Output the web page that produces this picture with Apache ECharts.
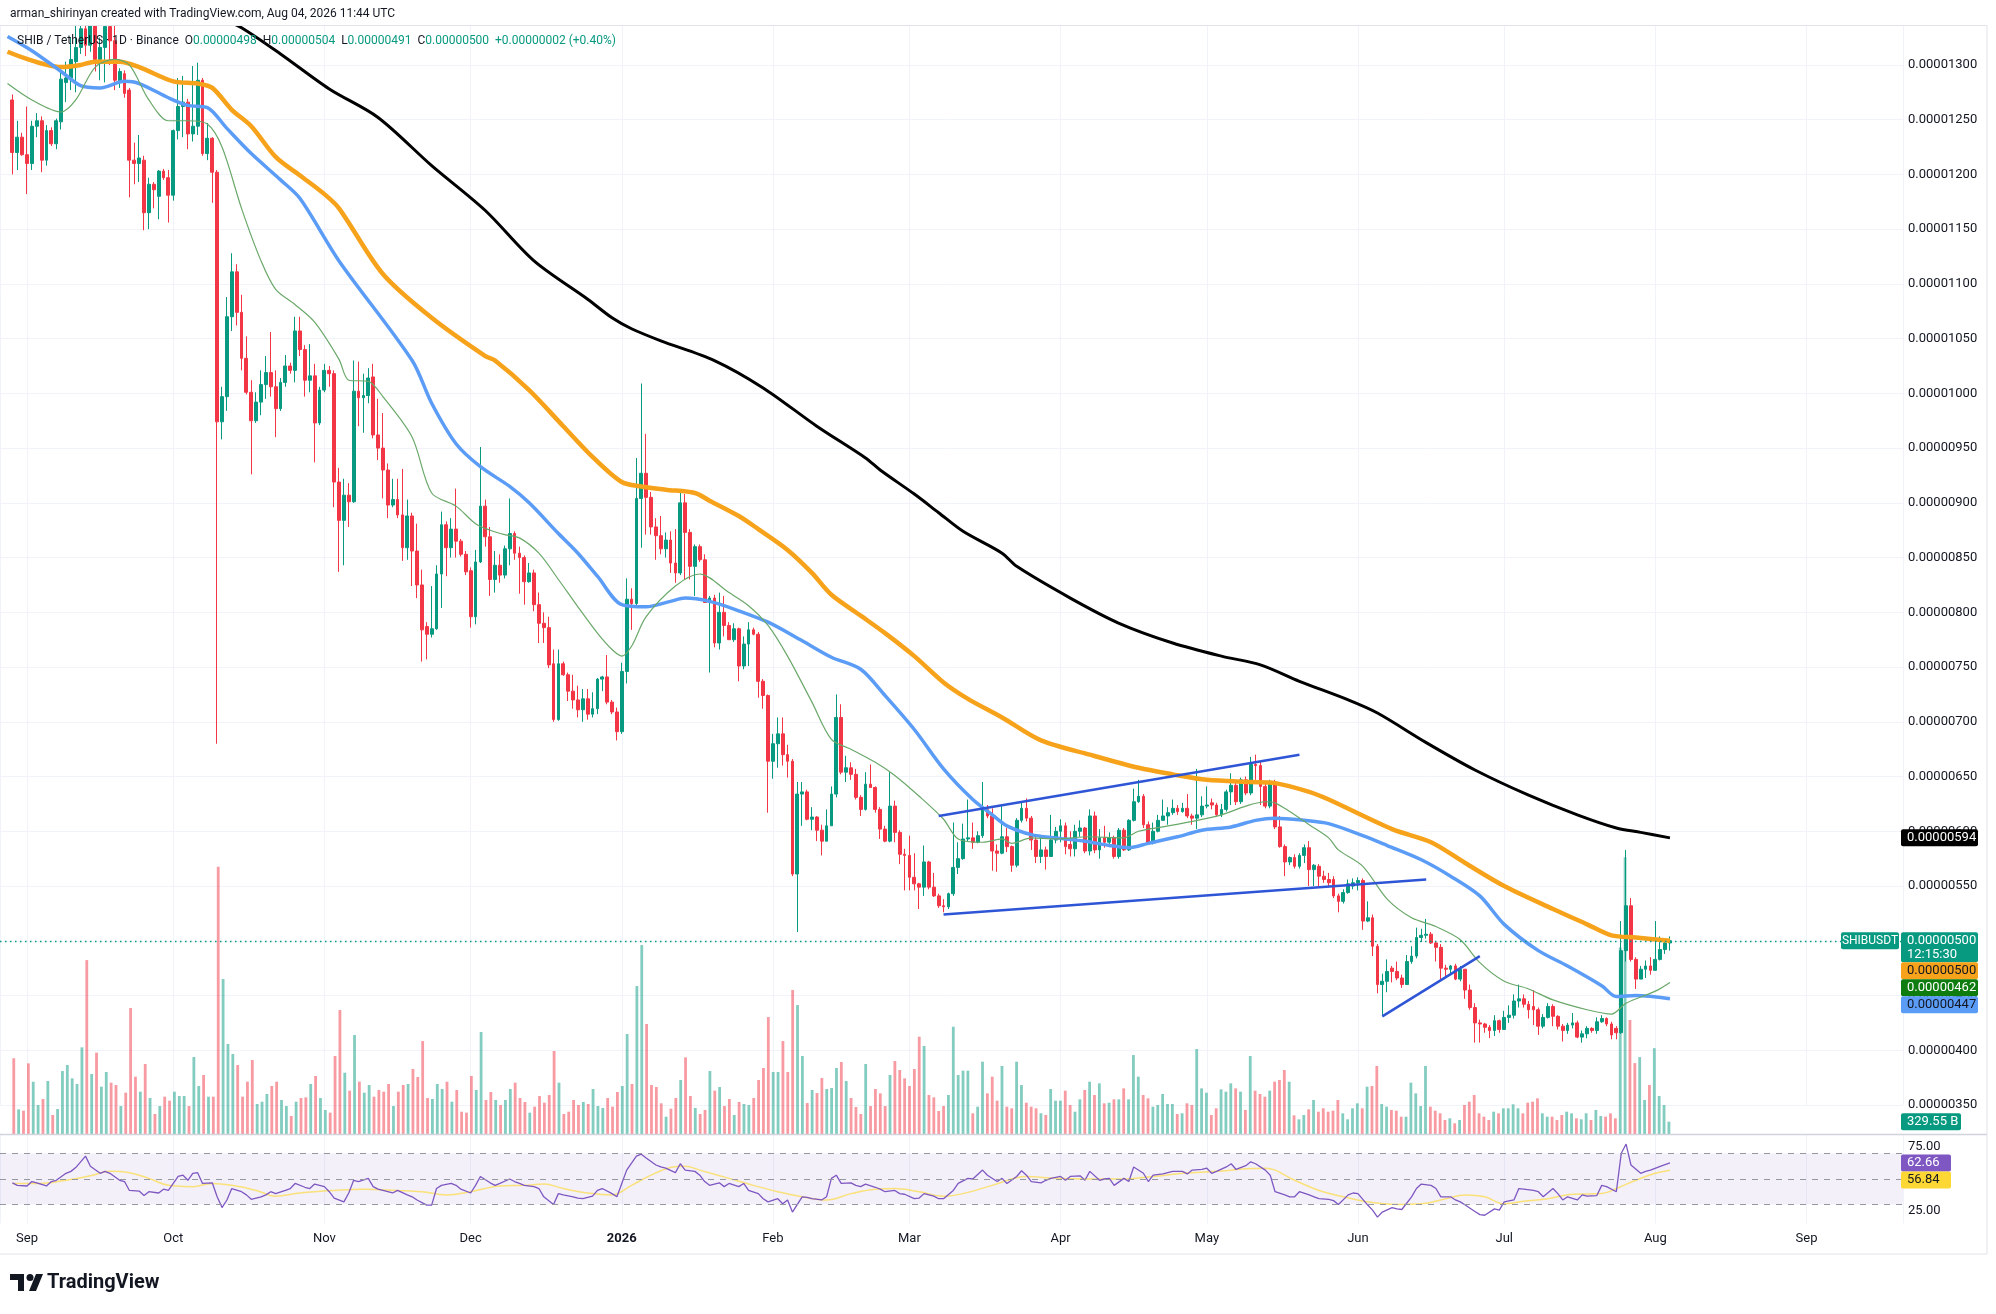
<!DOCTYPE html>
<html>
<head>
<meta charset="utf-8">
<title>SHIB / TetherUS 1D</title>
<script src="https://cdn.jsdelivr.net/npm/echarts@6.0.0/dist/echarts.min.js"></script>
<style>
html, body { margin: 0; padding: 0; background: #fff; }
#chart { width: 1996px; height: 1314px; }
</style>
</head>
<body>
<div id="chart"></div>
<script>
// prices in units of 1e-8 USDT, days counted from 2025-09-01
var FIRST_DAY = -3;

// [open, close, low, high], one per day from 2025-08-29
var ohlc = [
[1268,1220,1200,1273],[1220,1234,1204,1249],[1234,1218,1217,1238],[1218,1210,1182,1262],[1210,1244,1204,1249],[1244,1249,1234,1256],[1249,1213,1202,1253],[1213,1240,1208,1245],[1240,1228,1226,1243],[1228,1249,1223,1251],
[1248,1287,1241,1299],[1284,1288,1266,1303],[1288,1305,1277,1325],[1303,1316,1275,1342],[1316,1333,1310,1348],[1333,1318,1308,1345],[1318,1338,1312,1352],[1342,1305,1294,1350],[1305,1316,1286,1325],[1316,1335,1284,1348],
[1335,1322,1300,1350],[1322,1286,1277,1345],[1284,1294,1279,1297],[1292,1274,1270,1295],[1277,1213,1179,1279],[1213,1210,1191,1229],[1210,1215,1193,1236],[1213,1165,1149,1217],[1165,1191,1150,1197],[1191,1186,1169,1193],
[1180,1203,1159,1204],[1203,1197,1195,1205],[1197,1181,1156,1204],[1181,1240,1176,1241],[1240,1262,1232,1288],[1262,1266,1234,1290],[1266,1237,1223,1269],[1237,1244,1230,1299],[1244,1286,1236,1302],[1286,1219,1217,1288],
[1219,1233,1213,1247],[1233,1202,1174,1234],[1202,974,680,1204],[974,997,958,1006],[997,1070,984,1088],[1070,1111,1057,1128],[1111,1074,1062,1118],[1074,1032,1021,1090],[1032,1001,999,1052],[1001,975,926,1012],
[975,992,973,1001],[992,1008,980,1021],[1008,1019,995,1034],[1019,1006,997,1056],[1006,986,960,1021],[986,1010,984,1014],[1010,1025,1006,1035],[1025,1021,1018,1028],[1021,1057,1010,1070],[1057,1040,1034,1070],
[1040,1012,997,1044],[1012,1016,1001,1045],[1016,973,937,1027],[973,1003,971,1006],[1003,1021,1001,1027],[1021,1018,1006,1025],[1018,919,896,1021],[919,884,837,932],[884,907,843,922],[907,901,878,918],
[901,1002,900,1030],[1002,996,970,1029],[996,998,964,1018],[998,1014,991,1023],[1015,962,959,1027],[962,950,939,995],[950,930,904,982],[930,898,886,936],[898,903,896,922],[903,889,886,922],
[889,859,847,931],[859,888,848,903],[888,856,824,891],[856,825,813,881],[825,784,755,839],[787,780,757,791],[780,785,777,824],[785,835,784,843],[835,880,804,892],[880,859,833,883],
[859,876,850,886],[876,865,850,913],[865,853,851,867],[853,837,834,856],[838,796,786,841],[796,846,789,857],[846,897,845,951],[897,869,860,903],[869,830,815,878],[830,843,818,856],
[843,834,827,853],[834,858,831,861],[858,872,843,904],[872,854,848,874],[854,850,817,860],[850,828,807,852],[828,836,827,845],[836,807,801,839],[807,790,772,818],[790,786,772,800],
[786,752,749,796],[753,702,700,766],[702,753,701,766],[753,743,742,755],[743,728,719,745],[728,720,712,743],[720,711,704,733],[711,721,700,730],[721,707,702,730],[707,712,704,727],
[712,739,707,740],[739,741,728,742],[741,718,716,761],[718,709,707,720],[709,691,683,713],[691,746,689,754],[746,812,735,831],[812,808,784,822],[808,904,806,941],[904,927,859,1009],
[927,905,871,963],[905,878,871,910],[878,870,848,886],[870,858,853,888],[858,866,850,873],[866,845,836,874],[845,836,827,876],[836,900,834,912],[900,873,830,908],[873,842,830,876],
[842,860,815,862],[860,848,846,862],[848,809,809,853],[809,813,745,815],[813,772,768,816],[772,800,766,818],[800,788,778,815],[788,775,775,791],[775,785,773,790],[785,751,737,786],
[751,771,748,778],[771,784,751,791],[784,780,779,786],[780,737,722,782],[737,724,712,739],[724,664,617,725],[664,680,648,689],[680,689,658,704],[689,670,660,704],[670,664,649,679],
[664,561,559,666],[561,634,508,645],[634,636,605,645],[636,611,610,638],[611,613,601,622],[613,601,591,614],[601,591,578,606],[591,605,591,620],[605,634,605,641],[634,704,631,725],
[704,654,652,716],[654,658,645,669],[658,652,647,663],[652,631,629,657],[631,620,614,633],[620,643,619,654],[643,640,640,661],[640,620,617,641],[620,602,593,622],[602,591,590,605],
[591,623,590,654],[623,599,590,628],[599,579,570,601],[579,578,546,584],[578,558,546,596],[558,552,546,580],[552,549,529,553],[549,572,541,587],[572,549,547,573],[549,541,540,562],
[541,532,530,543],[532,531,526,538],[531,543,529,544],[543,567,541,608],[567,575,561,590],[575,593,574,607],[593,594,591,629],[594,590,584,608],[590,596,589,600],[596,620,594,645],
[620,614,612,624],[614,582,564,621],[582,580,563,588],[580,595,579,623],[595,586,581,603],[586,569,563,587],[569,610,567,612],[610,621,608,627],[621,612,609,630],[612,592,583,614],
[592,577,571,595],[577,583,571,595],[583,577,565,586],[577,592,577,615],[592,600,589,604],[600,605,590,611],[605,586,579,608],[588,584,577,600],[584,600,577,606],[600,603,595,610],
[603,582,580,604],[582,614,578,620],[614,583,580,618],[583,594,575,602],[594,590,585,605],[590,594,587,599],[594,577,575,596],[577,601,575,603],[601,583,582,603],[583,610,582,611],
[610,627,609,639],[627,632,626,647],[632,606,603,634],[606,589,588,609],[589,600,588,608],[600,610,599,615],[610,614,610,629],[614,617,606,622],[617,621,615,629],[621,618,615,624],
[618,621,617,626],[621,614,612,634],[614,612,606,616],[612,615,602,657],[615,623,613,632],[623,624,621,641],[626,624,620,630],[624,615,614,626],[615,620,613,625],[620,636,618,638],
[636,642,624,653],[642,627,624,644],[627,647,625,649],[647,635,633,650],[635,661,633,668],[661,660,647,670],[660,641,624,664],[641,623,621,644],[623,645,621,647],[645,604,602,647],
[604,586,585,614],[586,572,559,588],[572,576,569,577],[576,568,566,579],[568,578,566,580],[578,585,571,588],[585,565,550,591],[565,569,550,570],[568,559,550,570],[559,556,553,564],
[556,553,549,562],[556,541,539,559],[541,536,526,543],[536,544,534,547],[544,552,543,556],[550,553,547,557],[553,555,546,558],[555,518,510,557],[518,521,517,536],[521,495,486,524],
[495,460,452,497],[460,463,431,470],[463,472,453,483],[475,472,462,477],[472,466,464,481],[466,460,457,469],[460,481,460,487],[481,486,479,495],[486,503,484,512],[503,505,499,511],
[505,506,502,520],[506,498,497,508],[498,494,481,500],[494,475,465,497],[475,474,466,478],[474,477,469,478],[477,465,464,479],[465,474,463,477],[474,455,447,474],[455,439,437,460],
[439,425,407,443],[425,424,407,428],[424,421,416,425],[421,418,411,423],[418,427,413,432],[427,419,416,428],[419,430,419,436],[430,432,425,441],[432,445,429,451],[445,447,439,460],
[447,442,439,451],[442,437,429,445],[440,437,423,455],[437,422,414,439],[422,430,420,433],[430,440,429,443],[440,431,422,442],[431,422,419,432],[422,418,408,424],[418,423,415,425],
[423,425,420,434],[425,412,411,427],[412,415,407,418],[415,420,411,422],[420,418,416,421],[418,426,415,430],[426,429,425,432],[429,424,422,430],[424,414,410,426],[420,416,410,422],
[416,491,415,518],[491,532,481,583],[532,483,481,539],[483,465,456,485],[465,474,465,477],[474,477,466,482],[477,473,469,485],[473,483,473,518],[483,492,482,504],[492,498,488,502],[498,500,491,504]
];

// daily volume, billions of SHIB, same days as ohlc
var volumes = [
2030,660,625,1893,1402,777,938,1420,509,670,1688,1849,1491,1340,2322,4661,1607,2179,1268,1661,
1375,1313,750,1107,3376,1536,1134,1875,964,536,750,1000,893,1134,1018,1018,750,2063,1286,1581,
1000,1000,7162,4152,2411,2143,1849,1000,1402,1982,804,866,1072,1286,1402,911,750,482,866,964,
982,1340,1554,964,643,572,2090,3322,1643,1161,2652,1402,1107,1313,1000,1179,1134,1340,750,1134,
1313,1340,1741,1527,2491,964,938,1340,1206,1402,866,1179,598,572,1554,1179,2733,911,1125,911,
777,911,1206,1375,964,857,572,732,1018,839,1045,2224,1375,536,598,911,777,857,804,1206,
750,697,964,732,1125,1286,2679,1340,3965,5063,2947,1313,1259,822,464,679,964,1447,2054,1018,
697,536,643,1688,1161,1259,750,938,509,857,804,777,964,1447,1768,3134,1661,1661,2491,1661,
3858,3456,2090,830,1179,1098,1500,1206,1232,1768,1929,1420,964,723,
536,1875,750,1206,1089,750,1581,1956,1715,1491,1286,1741,2608,2358,1045,982,616,750,1045,2875,
1581,1697,1697,554,732,1938,1089,1536,893,1822,732,688,1938,1313,839,732,688,554,509,1206,
893,893,1161,777,598,929,1179,1402,1045,1357,822,839,929,929,1223,929,2116,1536,1045,955,
732,777,1072,804,804,536,554,822,777,2277,1223,1107,509,688,1197,1134,1357,1223,1134,643,
2090,1161,1072,1000,1161,1402,1447,1715,1402,500,393,509,661,911,598,688,598,625,911,554,
393,688,822,688,1268,1286,1822,804,732,643,625,464,464,1375,1089,750,1822,732,625,554,
375,420,286,375,777,866,1045,554,464,375,598,554,688,688,795,688,554,839,866,955,
554,464,464,375,509,598,554,420,393,554,375,643,482,464,554,420,5000,7420,3055,1900,
2060,910,1313,2300,1018,777,329.55
];

// moving averages: [day, price]
var ma20 = [[-4,1283],[1,1268],[7,1257],[10,1268],[14,1298],[18,1305],[21,1300],[25,1268],[29,1249],[33,1249],[37,1246],[40,1225],[44,1169],[48,1121],[51,1095],[55,1081],[59,1065],[64,1031],[66,1012],[70,1011],[73,997],[79,960],[83,909],[88,897],[92,881],[95,875],[98,871],[101,868],[105,854],[109,830],[113,805],[117,781],[120,766],[122,760],[124,769],[127,796],[133,824],[138,835],[144,818],[148,806],[152,788],[156,760],[161,718],[165,684],[169,675],[174,663],[178,651],[183,632],[188,611],[191,593],[196,590],[200,593],[202,589],[206,594],[211,593],[218,595],[225,594],[228,600],[233,604],[239,609],[245,615],[250,623],[254,627],[256,626],[259,618],[263,606],[267,594],[269,583],[274,568],[279,538],[284,521],[289,513],[294,501],[298,480],[303,463],[308,456],[313,446],[320,437],[325,433],[328,443],[334,454],[337,462]];
var ma50 = [[-4,1326],[1,1313],[7,1294],[11,1281],[15,1279],[20,1285],[23,1283],[29,1270],[33,1263],[37,1261],[41,1242],[46,1219],[52,1195],[56,1178],[64,1121],[79,1030],[83,991],[88,954],[93,933],[99,915],[103,900],[109,872],[113,854],[117,833],[122,807],[127,805],[132,810],[135,813],[140,810],[145,803],[152,791],[159,774],[165,759],[171,748],[176,724],[182,693],[188,657],[194,629],[198,615],[201,605],[206,597],[211,594],[217,591],[222,587],[226,585],[230,589],[236,595],[241,601],[247,604],[252,610],[256,612],[262,610],[267,607],[274,596],[279,587],[286,574],[292,559],[298,541],[303,515],[310,491],[316,477],[323,459],[326,449],[330,450],[337,447]];
var ma100 = [[-4,1312],[7,1298],[11,1300],[14,1303],[19,1303],[23,1298],[30,1285],[35,1283],[38,1279],[42,1259],[46,1244],[51,1216],[56,1199],[61,1182],[64,1169],[73,1109],[83,1069],[94,1034],[96,1030],[103,1003],[110,970],[116,942],[122,919],[126,915],[131,912],[137,909],[140,902],[146,888],[150,876],[156,857],[161,836],[165,816],[171,797],[176,781],[182,760],[188,736],[193,721],[200,704],[208,683],[218,670],[228,658],[235,652],[242,647],[251,645],[256,644],[263,636],[267,629],[280,602],[288,590],[295,571],[303,550],[313,529],[320,515],[325,505],[330,503],[337,500]];
var ma200 = [[40,1342],[44,1334],[52,1310],[62,1278],[72,1252],[83,1208],[94,1167],[104,1121],[115,1086],[120,1069],[124,1059],[130,1048],[141,1030],[151,1005],[162,970],[172,941],[175,930],[182,908],[187,891],[192,874],[200,854],[203,842],[214,813],[224,790],[235,772],[245,760],[253,752],[261,737],[271,720],[277,708],[287,681],[297,656],[308,633],[318,615],[326,603],[331,599],[337,594]];

// drawn trend lines: [day, price]
var channelTop = [[187,614],[261,670]];
var channelBottom = [[188,524],[287,556]];
var wedgeLine = [[278,431],[298,486]];

// RSI 14 and its moving average: [day, value]
var rsi = [[-3,47],[-2,45],[0,44.5],[1,48],[2,47],[4,44.5],[5,48],[6,49],[8,54.5],[9,56],[10,59],[12,68],[13,60],[15,54.5],[16,56],[17,54.5],[19,49],[20,48],[21,41],[23,40.5],[24,37],[25,40],[27,39],[28,42],[29,41],[31,52],[32,53],[33,49],[34,54.5],[35,55],[36,46.5],[38,47],[39,36],[40,27.5],[41,33.5],[42,42.5],[44,40],[45,37.5],[46,34],[48,36],[49,37.5],[50,40],[51,38.5],[53,41],[54,42.5],[55,46.5],[57,43.5],[58,42.5],[59,46],[61,44],[62,40],[63,35],[65,32],[66,39],[67,49],[68,48],[70,50.5],[71,44],[72,42],[74,40],[75,39],[76,41],[78,37.5],[79,36],[80,33.5],[82,29.5],[83,29.5],[84,42.5],[85,45],[87,46.5],[88,45],[89,42],[91,39],[92,45],[93,52],[95,47],[96,45],[97,46.5],[99,50],[100,48],[101,46.5],[102,45],[104,44],[105,42.5],[106,36],[108,30],[109,38.5],[110,37.5],[112,36],[113,35],[114,34.5],[116,36.5],[117,41],[118,42.5],[120,38.5],[121,36],[122,46.5],[123,57],[125,68],[126,69.5],[127,66.5],[129,61],[130,59.5],[131,58.5],[133,55],[134,62],[135,57],[137,56],[138,53],[139,48],[140,45],[142,47],[143,44],[144,46.5],[146,44],[147,46.5],[148,41],[150,38.5],[151,34.5],[152,32],[154,34.5],[155,30.5],[156,33.5],[157,24],[159,36],[160,35.5],[161,34.5],[163,33.5],[164,36],[165,50.5],[166,53],[167,46.5],[169,47],[170,45],[171,44],[172,46],[174,43.5],[175,42],[176,40],[178,41],[179,38.5],[180,38],[182,34.5],[183,35],[184,38.5],[186,36.5],[187,34.5],[188,34.5],[190,41],[191,46.5],[193,50.5],[194,50],[196,57],[197,53],[199,48],[200,50.5],[201,46.5],[203,52],[204,56.5],[205,53],[206,48],[208,47],[209,49],[210,50.5],[212,52],[213,49],[214,52],[216,52.5],[217,49],[218,56],[220,49],[221,50],[222,50.5],[223,45],[225,50.5],[226,48],[227,59.5],[229,54.5],[230,48],[231,53],[233,54],[234,55],[235,56],[237,56],[238,54],[239,57],[241,57.5],[242,58.5],[243,54.5],[244,56],[246,59.5],[247,62],[248,57.5],[250,60.5],[251,63.5],[252,62],[254,57],[255,53],[256,40],[258,37.5],[259,36],[260,36],[261,40],[263,37.5],[264,36],[265,34.5],[267,34],[268,33],[269,30],[271,37.5],[272,39],[273,38.5],[275,29.5],[276,25.5],[277,20],[278,24],[280,27.5],[281,26.5],[282,26],[284,36],[285,42.5],[286,46],[288,45],[289,42.5],[290,36],[292,36],[293,33.5],[294,32],[295,29.5],[297,24.5],[298,22],[299,21.5],[301,26.5],[302,25.5],[303,32],[305,33.5],[306,42.5],[307,42],[309,41],[310,40],[311,36],[313,42.5],[314,38.5],[315,33.5],[316,36],[318,33.5],[319,37.5],[320,36.5],[322,37],[323,45],[324,44],[326,40],[327,70],[328,77.5],[329,61],[331,54.5],[332,56],[333,57],[335,60],[337,62.66]];
var rsiMa = [[-3,46.5],[2,46.5],[8,49],[13,52.5],[17,56],[21,55],[25,50.5],[29,45],[34,44],[38,46.5],[42,45],[47,41],[51,36.5],[56,39],[63,41],[69,42],[76,41],[81,40],[86,37.5],[91,40],[97,44.5],[102,45],[106,46],[110,42.5],[115,39],[120,37.5],[124,45],[128,53],[132,59],[135,60],[138,57],[144,50.5],[149,45],[154,40],[159,36],[164,33.5],[169,38.5],[174,42],[178,42.5],[183,40],[188,36.5],[192,38.5],[198,45],[205,52],[211,50.5],[218,50],[224,50],[231,52],[237,54.5],[244,56],[250,58],[254,58.5],[260,49],[265,41],[270,36],[275,32],[281,30],[286,30.5],[291,34.5],[295,37.5],[299,36],[303,30.5],[307,32.5],[312,34.5],[317,38],[323,38.5],[326,42.5],[330,49],[334,54.5],[337,56.84]];

var monthNames = ['Jan','Feb','Mar','Apr','May','Jun','Jul','Aug','Sep','Oct','Nov','Dec'];

var DAY = 86400000;
var T0 = Date.UTC(2025, 8, 1);
function t(d) { return T0 + d * DAY; }
function px(v) { return (v / 1e8).toFixed(8); }

var UP = '#089981', DOWN = '#f23645';
var FONT = 'Roboto, "Noto Sans", sans-serif';
var X_MIN = t(-5.54), X_MAX = t(384.8);

var candleData = ohlc.map(function (c, i) {
	return [t(FIRST_DAY + i), c[0], c[1], c[2], c[3]];
});
var volData = volumes.map(function (v, i) {
	var up = ohlc[i][1] >= ohlc[i][0];
	return { value: [t(FIRST_DAY + i), v], itemStyle: { color: up ? 'rgba(8,153,129,0.5)' : 'rgba(242,54,69,0.5)' } };
});
function pts(arr) { return arr.map(function (p) { return [t(p[0]), p[1]]; }); }

function timeAxis(gridIndex, labels) {
	return {
		type: 'time',
		gridIndex: gridIndex,
		min: X_MIN,
		max: X_MAX,
		splitNumber: 13,
		minInterval: 28 * DAY,
		maxInterval: 31 * DAY,
		axisLine: { show: false },
		axisTick: { show: false },
		splitLine: { show: gridIndex !== 1, lineStyle: { color: '#f0f3fa', width: 1 } },
		axisLabel: labels ? {
			show: true,
			color: '#131722',
			fontSize: 13,
			fontFamily: FONT,
			margin: 9,
			showMinLabel: false,
			showMaxLabel: false,
			formatter: function (val) {
				var dt = new Date(val);
				if (dt.getUTCDate() !== 1) return '';
				if (dt.getUTCMonth() === 0) return '{y|' + dt.getUTCFullYear() + '}';
				return monthNames[dt.getUTCMonth()];
			},
			rich: { y: { fontWeight: 'bold', fontSize: 13, color: '#131722', fontFamily: FONT } }
		} : { show: false }
	};
}

function maLine(name, data, color, width) {
	return {
		name: name, type: 'line', xAxisIndex: 0, yAxisIndex: 0,
		data: pts(data), smooth: 0.3, showSymbol: false, symbol: 'none',
		lineStyle: { color: color, width: width }, z: 4, silent: true
	};
}
function trendLine(data) {
	return {
		type: 'line', xAxisIndex: 0, yAxisIndex: 0, data: pts(data),
		showSymbol: false, symbol: 'none', lineStyle: { color: '#2e55d6', width: 2.5 }, z: 5, silent: true
	};
}

var last = ohlc[ohlc.length - 1];
var prev = ohlc[ohlc.length - 2];
var chg = last[1] - prev[1];

var dom = document.getElementById('chart');
var myChart = echarts.init(dom);
var option = {
	animation: false,
	useUTC: true,
	backgroundColor: '#ffffff',
	grid: [
		{ left: 0, right: 93, top: 25.5, height: 1079.5 },
		{ left: 0, right: 93, top: 734, height: 400 },
		{ left: 0, right: 93, top: 1134.5, height: 89 }
	],
	xAxis: [timeAxis(0, false), timeAxis(1, false), timeAxis(2, true)],
	yAxis: [
		{
			type: 'value', gridIndex: 0, position: 'right', min: 350, max: 1336, interval: 50,
			axisLine: { show: false }, axisTick: { show: false },
			splitLine: { lineStyle: { color: '#f0f3fa', width: 1 } },
			axisLabel: { margin: 5, color: '#131722', fontSize: 13, fontFamily: FONT, showMaxLabel: false, formatter: px }
		},
		{ type: 'value', gridIndex: 1, min: 0, max: 10720, show: false },
		{
			type: 'value', gridIndex: 2, position: 'right', min: 15, max: 85, interval: 5,
			axisLine: { show: false }, axisTick: { show: false }, splitLine: { show: false },
			axisLabel: {
				margin: 5, color: '#131722', fontSize: 13, fontFamily: FONT,
				formatter: function (v) { return (v === 75 || v === 25) ? v.toFixed(2) : ''; }
			}
		}
	],
	series: [
		{
			name: 'Volume', type: 'bar', xAxisIndex: 1, yAxisIndex: 1, data: volData,
			barWidth: 2.8, z: 1, silent: true
		},
		{
			name: 'SHIBUSDT', type: 'candlestick', xAxisIndex: 0, yAxisIndex: 0,
			data: candleData, encode: { x: 0, y: [1, 2, 3, 4] }, barWidth: 3.3, z: 3, clip: true,
			itemStyle: { color: UP, color0: DOWN, borderColor: UP, borderColor0: DOWN, borderWidth: 1 },
			markLine: {
				symbol: ['none', 'none'], silent: true, label: { show: false },
				lineStyle: { color: UP, type: [1.5, 3.5], width: 1.3, opacity: 1 },
				data: [{ yAxis: last[1] }]
			}
		},
		maLine('MA 200', ma200, '#000000', 3),
		maLine('MA 100', ma100, '#f7a21b', 4.5),
		maLine('MA 50', ma50, '#5b9cf6', 3.5),
		maLine('MA 20', ma20, '#6aa86a', 1.2),
		trendLine(channelTop),
		trendLine(channelBottom),
		trendLine(wedgeLine),
		{
			name: 'RSI', type: 'line', xAxisIndex: 2, yAxisIndex: 2, data: pts(rsi),
			showSymbol: false, symbol: 'none', lineStyle: { color: '#7e57c2', width: 1.3 }, z: 4, silent: true,
			markArea: {
				silent: true, itemStyle: { color: 'rgba(126,87,194,0.09)' },
				data: [[{ yAxis: 30 }, { yAxis: 70 }]]
			},
			markLine: {
				symbol: ['none', 'none'], silent: true, label: { show: false },
				lineStyle: { color: '#9598a1', type: [6, 6], width: 1 },
				data: [{ yAxis: 70 }, { yAxis: 50 }, { yAxis: 30 }]
			}
		},
		{
			name: 'RSI MA', type: 'line', xAxisIndex: 2, yAxisIndex: 2, data: pts(rsiMa),
			smooth: 0.4, showSymbol: false, symbol: 'none',
			lineStyle: { color: '#fdd835', width: 1.5, opacity: 0.65 }, z: 3, silent: true
		}
	],
	graphic: [
		// cover anything poking above the price pane
		{ type: 'rect', shape: { x: 0, y: 0, width: 1996, height: 25 }, style: { fill: '#ffffff' }, z: 40 },
		{ type: 'line', shape: { x1: 0, y1: 25.5, x2: 1987, y2: 25.5 }, style: { stroke: '#e0e3eb', lineWidth: 1 }, z: 50 },
		{ type: 'line', shape: { x1: 0, y1: 1134.5, x2: 1987, y2: 1134.5 }, style: { stroke: '#d1d4dc', lineWidth: 1.5 }, z: 50 },
		{ type: 'line', shape: { x1: 0, y1: 1254, x2: 1987, y2: 1254 }, style: { stroke: '#e0e3eb', lineWidth: 1 }, z: 50 },
		{ type: 'line', shape: { x1: 1987, y1: 25.5, x2: 1987, y2: 1254 }, style: { stroke: '#e0e3eb', lineWidth: 1 }, z: 50 },
		{
			type: 'text', x: 10, y: 14, z: 60,
			style: { text: 'arman_shirinyan created with TradingView.com, Aug 04, 2026 11:44 UTC', fill: '#131722', font: '12px ' + FONT, verticalAlign: 'middle' }
		},
		{
			type: 'text', x: 17, y: 41, z: 60,
			style: {
				text: '{d|SHIB / TetherUS · 1D · Binance}  {d|O}{g|' + px(last[0]) + '}  {d|H}{g|' + px(last[3]) + '}  {d|L}{g|' + px(last[2]) + '}  {d|C}{g|' + px(last[1]) + '}  {g|' + (chg >= 0 ? '+' : '') + px(chg) + ' (' + (chg >= 0 ? '+' : '') + (chg / prev[1] * 100).toFixed(2) + '%)}',
				font: '12px ' + FONT, verticalAlign: 'middle',
				rich: {
					d: { fill: '#131722', font: '12px ' + FONT },
					g: { fill: UP, font: '12px ' + FONT }
				}
			}
		},
		{ type: 'rect', shape: { x: 10, y: 1274, width: 14, height: 6 }, style: { fill: '#131722' }, z: 60 },
		{ type: 'rect', shape: { x: 18, y: 1274, width: 6, height: 17 }, style: { fill: '#131722' }, z: 60 },
		{ type: 'circle', shape: { cx: 30, cy: 1277.5, r: 3.5 }, style: { fill: '#131722' }, z: 60 },
		{ type: 'polygon', shape: { points: [[29, 1291], [36, 1274], [43, 1274], [36, 1291]] }, style: { fill: '#131722' }, z: 60 },
		{
			type: 'text', x: 47, y: 1283, z: 60,
			style: { text: 'TradingView', fill: '#131722', font: 'bold 20px ' + FONT, verticalAlign: 'middle' }
		}
	]
};

if (option && typeof option === 'object') {
	myChart.setOption(option, true);
}

// price-scale tags, placed through the axes
function tag(x, yTop, w, h, bg, fg, lines) {
	var els = [{ type: 'rect', shape: { x: x, y: yTop, width: w, height: h, r: 2 }, style: { fill: bg }, z: 100 }];
	lines.forEach(function (txt, k) {
		els.push({
			type: 'text', x: x + 6, y: yTop + 8.5 + k * 14, z: 101,
			style: { text: txt, fill: fg, font: '13px ' + FONT, verticalAlign: 'middle' }
		});
	});
	return els;
}
var TAG_X = 1901, TAG_W = 77, TAG_H = 17;
var yClose = myChart.convertToPixel({ yAxisIndex: 0 }, last[1]);
var yBlack = myChart.convertToPixel({ yAxisIndex: 0 }, ma200[ma200.length - 1][1]);
var yVol = myChart.convertToPixel({ yAxisIndex: 1 }, volumes[volumes.length - 1]);
var yRsi = myChart.convertToPixel({ yAxisIndex: 2 }, rsi[rsi.length - 1][1]);
var top0 = yClose - 8.5;
var tags = [];
tags = tags.concat(tag(TAG_X, yBlack - 8.5, TAG_W, TAG_H, '#000000', '#ffffff', [px(ma200[ma200.length - 1][1])]));
tags = tags.concat(tag(TAG_X, top0, TAG_W, 30, UP, '#ffffff', [px(last[1]), '12:15:30']));
tags.push({ type: 'rect', shape: { x: 1841, y: top0, width: 58, height: TAG_H, r: 2 }, style: { fill: UP }, z: 100 });
tags.push({ type: 'text', x: 1870, y: top0 + 8.5, z: 101, style: { text: 'SHIBUSDT', fill: '#ffffff', font: '12px ' + FONT, align: 'center', verticalAlign: 'middle' } });
tags = tags.concat(tag(TAG_X, top0 + 30, TAG_W, TAG_H, '#f7a21b', '#131722', [px(ma100[ma100.length - 1][1])]));
tags = tags.concat(tag(TAG_X, top0 + 47, TAG_W, TAG_H, '#0e7c0e', '#ffffff', [px(ma20[ma20.length - 1][1])]));
tags = tags.concat(tag(TAG_X, top0 + 64, TAG_W, TAG_H, '#5b9cf6', '#131722', [px(ma50[ma50.length - 1][1])]));
tags = tags.concat(tag(TAG_X, yVol - 8.5, 60, TAG_H, UP, '#ffffff', [volumes[volumes.length - 1].toFixed(2) + ' B']));
tags = tags.concat(tag(TAG_X, yRsi - 8.5, 50, TAG_H, '#7e57c2', '#ffffff', [rsi[rsi.length - 1][1].toFixed(2)]));
tags = tags.concat(tag(TAG_X, yRsi + 8.5, 50, TAG_H, '#fdd835', '#131722', [rsiMa[rsiMa.length - 1][1].toFixed(2)]));

myChart.setOption({ graphic: option.graphic.concat(tags) });
</script>
</body>
</html>
